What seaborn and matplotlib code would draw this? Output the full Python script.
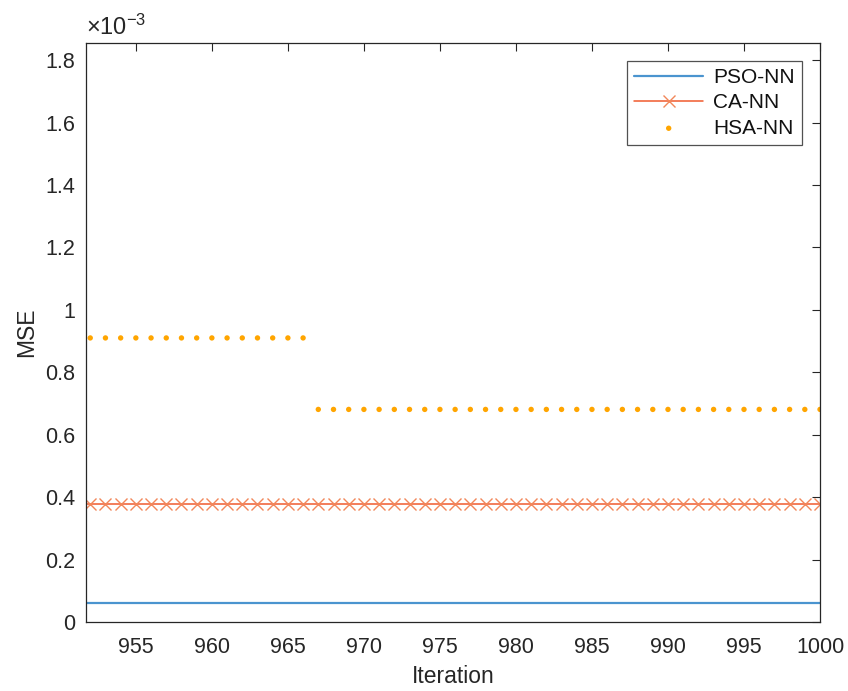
import numpy as np
import pandas as pd
import seaborn as sns
import matplotlib.pyplot as plt
from matplotlib.ticker import FixedLocator, FuncFormatter

# ----------------------------------------------------------------------
# DATA (MSE values in units of 1e-3)
# ----------------------------------------------------------------------

iterations = list(range(951, 1001))

pso_mse = [
    0.06, 0.06, 0.06, 0.06, 0.06, 0.06, 0.06, 0.06, 0.06, 0.06,
    0.06, 0.06, 0.06, 0.06, 0.06, 0.06, 0.06, 0.06, 0.06, 0.06,
    0.06, 0.06, 0.06, 0.06, 0.06, 0.06, 0.06, 0.06, 0.06, 0.06,
    0.06, 0.06, 0.06, 0.06, 0.06, 0.06, 0.06, 0.06, 0.06, 0.06,
    0.06, 0.06, 0.06, 0.06, 0.06, 0.06, 0.06, 0.06, 0.06, 0.06,
]

ca_mse = [
    0.378, 0.378, 0.378, 0.378, 0.378, 0.378, 0.378, 0.378, 0.378, 0.378,
    0.378, 0.378, 0.378, 0.378, 0.378, 0.378, 0.378, 0.378, 0.378, 0.378,
    0.378, 0.378, 0.378, 0.378, 0.378, 0.378, 0.378, 0.378, 0.378, 0.378,
    0.378, 0.378, 0.378, 0.378, 0.378, 0.378, 0.378, 0.378, 0.378, 0.378,
    0.378, 0.378, 0.378, 0.378, 0.378, 0.378, 0.378, 0.378, 0.378, 0.378,
]

hsa_mse = [
    0.91, 0.91, 0.91, 0.91, 0.91, 0.91, 0.91, 0.91, 0.91, 0.91,
    0.91, 0.91, 0.91, 0.91, 0.91, 0.91, 0.681, 0.681, 0.681, 0.681,
    0.681, 0.681, 0.681, 0.681, 0.681, 0.681, 0.681, 0.681, 0.681, 0.681,
    0.681, 0.681, 0.681, 0.681, 0.681, 0.681, 0.681, 0.681, 0.681, 0.681,
    0.681, 0.681, 0.681, 0.681, 0.681, 0.681, 0.681, 0.681, 0.681, 0.681,
]

x_ticks = [955, 960, 965, 970, 975, 980, 985, 990, 995, 1000]
y_ticks = [0, 0.2, 0.4, 0.6, 0.8, 1.0, 1.2, 1.4, 1.6, 1.8]

df = pd.DataFrame({
    "iteration": iterations,
    "pso": pso_mse,
    "ca": ca_mse,
    "hsa": hsa_mse,
})

# ----------------------------------------------------------------------
# STYLE
# ----------------------------------------------------------------------

sns.set_style("white")
plt.rcParams["font.family"] = ["Liberation Sans", "DejaVu Sans"]
plt.rcParams["mathtext.fontset"] = "custom"
plt.rcParams["mathtext.rm"] = "Liberation Sans"
plt.rcParams["mathtext.it"] = "Liberation Sans"

axis_col = "#262626"

fig = plt.figure(figsize=(8.48, 6.91), dpi=100)
ax = fig.add_axes([0.1014, 0.0999, 0.8656, 0.8379])

# ----------------------------------------------------------------------
# PLOT
# ----------------------------------------------------------------------

sns.lineplot(data=df, x="iteration", y="pso", color="#4a94cf",
             linewidth=1.6, label="PSO-NN", ax=ax)
sns.lineplot(data=df, x="iteration", y="ca", color="#f05a2e",
             linewidth=1.1, marker="x", markersize=8.5,
             markeredgewidth=1.0, markeredgecolor="#f2875a",
             label="CA-NN", ax=ax)
sns.scatterplot(data=df, x="iteration", y="hsa", color="#ffa500",
                marker="o", s=15, edgecolor="none",
                label="HSA-NN", ax=ax)

ax.set_xlim(951.72, 1000)
ax.set_ylim(0, 1.855)

ax.xaxis.set_major_locator(FixedLocator(x_ticks))
ax.yaxis.set_major_locator(FixedLocator(y_ticks))
ax.yaxis.set_major_formatter(FuncFormatter(lambda v, p: f"{v:g}"))

ax.tick_params(direction="in", length=6, width=0.8, colors=axis_col,
               labelsize=15.5, top=True, right=True, pad=8)
ax.tick_params(axis="x", pad=11)
for s in ax.spines.values():
    s.set_visible(True)
    s.set_color(axis_col)
    s.set_linewidth(0.9)

ax.set_xlabel("Iteration", fontsize=16.5, color=axis_col, labelpad=5)
ax.set_ylabel("MSE", fontsize=16.5, color=axis_col, labelpad=5)

ax.text(0.0, 1.006, r"$\times10^{-3}$", transform=ax.transAxes,
        fontsize=17, color=axis_col, ha="left", va="bottom")

leg = ax.legend(loc="upper right", bbox_to_anchor=(0.976, 0.969),
                borderaxespad=0, fontsize=15, frameon=True,
                fancybox=False, handlelength=3.3, handletextpad=0.5,
                labelspacing=0.3, borderpad=0.35)
leg.get_frame().set_edgecolor(axis_col)
leg.get_frame().set_linewidth(0.9)
for t in leg.get_texts():
    t.set_color("#111111")

fig.savefig("out.png", dpi=100)
